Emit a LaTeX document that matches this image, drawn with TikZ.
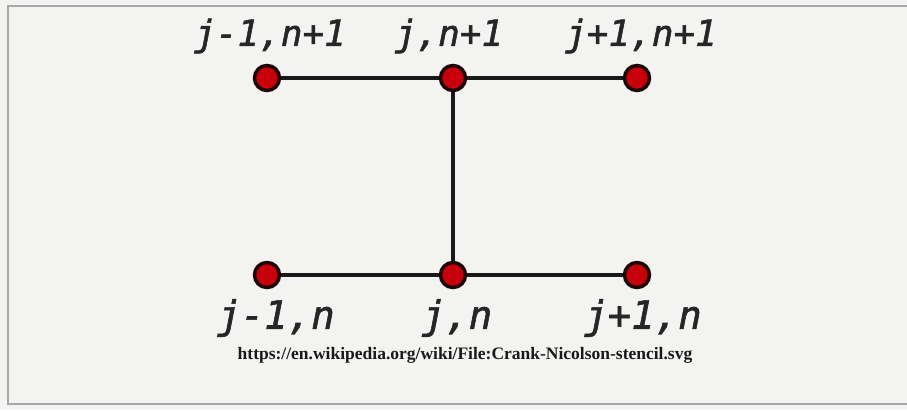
\documentclass[tikz,border=0pt]{standalone}
\usepackage{fontspec}
\newfontfamily\monofont[FakeBold=1.5]{DejaVu Sans Mono}
\newfontfamily\urlfont{Liberation Serif}
\definecolor{bgc}{HTML}{F3F4F1}
\definecolor{framec}{HTML}{A8A8A8}
\definecolor{dotred}{HTML}{C8000C}
\definecolor{dotedge}{HTML}{1E0505}
\begin{document}
\begin{tikzpicture}[x=1pt,y=-1pt,
  gridpt/.style={circle,draw=dotedge,fill=dotred,line width=3.5pt,minimum size=25pt,inner sep=0pt},
  link/.style={line width=3.8pt,draw=black!90},
  lbl/.style={font=\monofont\itshape\fontsize{36}{36}\selectfont,text=black!85,inner sep=0pt},
  lblb/.style={font=\monofont\itshape\fontsize{39}{39}\selectfont,text=black!85,inner sep=0pt}]
\useasboundingbox (0,0) rectangle (907,410);
\fill[bgc] (0,0) rectangle (907,410);
\draw[framec,line width=1.5pt] (907,6) -- (8,6) -- (8,404) -- (907,404);
\coordinate (a) at (267,78);
\coordinate (b) at (453,78);
\coordinate (c) at (637,78);
\coordinate (d) at (267,275);
\coordinate (e) at (453,275);
\coordinate (f) at (637,275);
\draw[link] (a) -- (b) -- (c);
\draw[link] (d) -- (e) -- (f);
\draw[link] (b) -- (e);
\node[gridpt] (na) at (a) {};
\node[gridpt] (nb) at (b) {};
\node[gridpt] (nc) at (c) {};
\node[gridpt] (nd) at (d) {};
\node[gridpt] (ne) at (e) {};
\node[gridpt] (nf) at (f) {};
\node[lbl] (la) at (270,36) {j-1,n+1};
\node[lbl] (lb) at (449,36) {j,n+1};
\node[lbl] (lc) at (641,36) {j+1,n+1};
\node[lblb] (ld) at (276,318) {j-1,n};
\node[lblb] (le) at (457,318) {j,n};
\node[lblb] (lf) at (643,318) {j+1,n};
\node[font=\urlfont\bfseries\fontsize{17.5}{17.5}\selectfont,inner sep=0pt,text=black!90] (url) at (465,355) {https://en.wikipedia.org/wiki/File:Crank-Nicolson-stencil.svg};
\end{tikzpicture}
\end{document}
